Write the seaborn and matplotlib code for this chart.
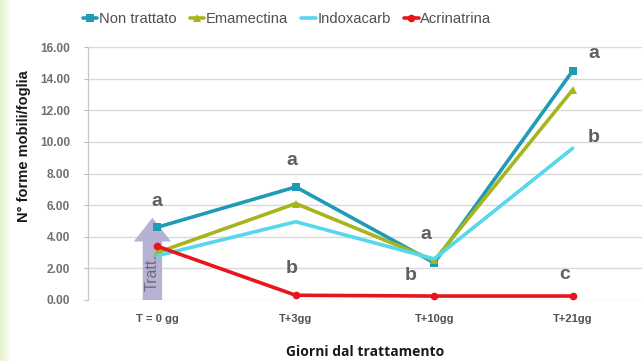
import numpy as np
import pandas as pd
import matplotlib
matplotlib.use("Agg")
import matplotlib.pyplot as plt
import seaborn as sns
from matplotlib.patches import FancyArrow

# Sampling dates and mean counts per treatment
giorni = ["T = 0 gg", "T+3gg", "T+10gg", "T+21gg"]
non_trattato = [4.6, 7.15, 2.35, 14.5]
emamectina = [3.0, 6.1, 2.5, 13.3]
indoxacarb = [2.8, 4.95, 2.6, 9.6]
acrinatrina = [3.4, 0.3, 0.25, 0.25]

serie = ["Non trattato", "Emamectina", "Indoxacarb", "Acrinatrina"]
colori = ["#1f9bb6", "#a7b51d", "#55d8ec", "#e8161c"]
marcatori = ["s", "^", "", "o"]

# Significance letters: (date index, y position, letter)
lettere_x = [0, 1, 2, 3, 3, 1, 2, 3]
lettere_y = [6.25, 8.8, 4.15, 15.6, 10.25, 2.0, 1.55, 1.6]
lettere_t = ["a", "a", "a", "a", "b", "b", "b", "c"]
lettere_dx = [0.0, -0.03, -0.06, 0.15, 0.15, -0.03, -0.17, -0.06]

valori = [non_trattato, emamectina, indoxacarb, acrinatrina]
df = pd.DataFrame({
    "giorno": np.tile(giorni, len(serie)),
    "pos": np.tile(np.arange(len(giorni)), len(serie)),
    "trattamento": np.repeat(serie, len(giorni)),
    "valore": np.concatenate(valori),
})

sns.set_theme(style="white")
plt.rcParams["font.family"] = ["Liberation Sans", "DejaVu Sans"]

fig = plt.figure(figsize=(6.44, 3.61), dpi=100)
fig.patch.set_facecolor("white")

# faint green band along the left edge
band = fig.add_axes([0, 0, 12 / 644, 1])
grad = np.linspace(1, 0, 50).reshape(1, -1)
band.imshow(grad, aspect="auto", cmap=matplotlib.colors.LinearSegmentedColormap.from_list(
    "g", ["#ffffff", "#e4f3c9"]), extent=[0, 1, 0, 1])
band.axis("off")

ax = fig.add_axes([88 / 644, 61 / 361, 554 / 644, 253 / 361])

# treatment arrow at the first date
ax.add_patch(FancyArrow(-0.035, 0.0, 0, 5.2, width=0.14, head_width=0.27,
                        head_length=1.5, length_includes_head=True,
                        facecolor="#b0aad0", edgecolor="none", alpha=0.9, zorder=1))
ax.text(-0.035, 1.75, "Tratt.", rotation=90, ha="center", va="center",
        fontsize=11.5, color="#6c6c78", zorder=1)

for nome, col, mk in zip(serie, colori, marcatori):
    sub = df[df["trattamento"] == nome]
    sns.lineplot(data=sub, x="pos", y="valore", ax=ax, color=col, lw=2.6,
                 marker=mk if mk else None, markersize=5.5, markeredgewidth=0,
                 label=nome, sort=False, zorder=3)

for xi, yi, t, dx in zip(lettere_x, lettere_y, lettere_t, lettere_dx):
    ax.text(xi + dx, yi, t, ha="center", va="center", fontsize=14,
            fontweight="bold", color="#5f5f5f", zorder=4)

ax.set_xlim(-0.5, 3.5)
ax.set_ylim(0, 16)
ax.set_yticks(np.arange(0, 16.01, 2))
ax.set_yticklabels([f"{v:.2f}" for v in np.arange(0, 16.01, 2)],
                   fontsize=8.6, fontweight="bold", color="#707070")
ax.set_xticks(range(len(giorni)))
ax.set_xticklabels(giorni, fontsize=8, fontweight="bold", color="#505050")
ax.tick_params(axis="x", length=0, pad=10)
ax.tick_params(axis="y", length=3, width=0.8, color="#bdbdbd", pad=10, left=True)
ax.yaxis.grid(True, color="#d9d9d9", lw=1.0)
ax.set_axisbelow(True)
for s in ["top", "right", "bottom"]:
    ax.spines[s].set_visible(False)
ax.spines["left"].set_color("#c8c8c8")
ax.spines["left"].set_linewidth(0.9)

ax.set_ylabel("N° forme mobili/foglia", fontsize=10.5, fontweight="bold",
              color="#1a1a1a")
ax.yaxis.set_label_coords(-0.102, 0.61)
ax.set_xlabel("Giorni dal trattamento", fontsize=10, fontweight="bold",
              color="#1a1a1a", family=["Open Sans", "DejaVu Sans"])
ax.xaxis.set_label_coords(0.5, -0.178)

h, l = ax.get_legend_handles_labels()
ax.get_legend().remove()
fig.legend(h, l, loc="center", bbox_to_anchor=(287 / 644, 1 - 19 / 361), ncol=4,
           frameon=False, handlelength=1.0, handletextpad=0.1,
           columnspacing=0.9, labelcolor="#505050",
           prop={"family": ["Liberation Sans", "DejaVu Sans"], "size": 10.6})

fig.savefig("out.png", dpi=100)
